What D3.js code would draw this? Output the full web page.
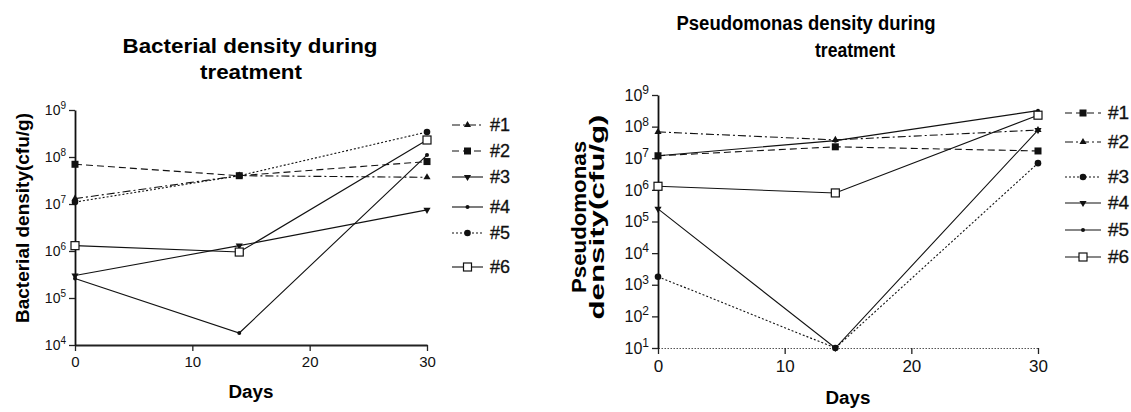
<!DOCTYPE html>
<html>
<head>
<meta charset="utf-8">
<script src="https://cdn.jsdelivr.net/npm/d3@7"></script>
<style>
  body { margin: 0; background: #fff; }
  svg { display: block; font-family: "Liberation Sans", Arial, sans-serif; }
</style>
</head>
<body>
<div id="chart"></div>
<script>
// ---- data ----
const days = [0, 14, 30];
const seriesNames = ['#1', '#2', '#3', '#4', '#5', '#6'];
const xTicks = [0, 10, 20, 30];

// bacterial density (cfu/g)
const bactYTicks = [1e4, 1e5, 1e6, 1e7, 1e8, 1e9];
const bact1 = [1.3e7, 4.0e7, 3.7e7];
const bact2 = [7.0e7, 4.0e7, 8.0e7];
const bact3 = [3.0e5, 1.3e6, 7.5e6];
const bact4 = [2.6e5, 1.8e4, 1.1e8];
const bact5 = [1.1e7, 4.0e7, 3.4e8];
const bact6 = [1.3e6, 9.5e5, 2.3e8];

// pseudomonas density (cfu/g)
const pseuYTicks = [1e1, 1e2, 1e3, 1e4, 1e5, 1e6, 1e7, 1e8, 1e9];
const pseu1 = [1.2e7, 2.3e7, 1.7e7];
const pseu2 = [6.8e7, 3.8e7, 7.8e7];
const pseu3 = [1.8e3, 1e1, 7.0e6];
const pseu4 = [2.5e5, 1e1, 7.8e7];
const pseu5 = [1.2e7, 3.6e7, 3.2e8];
const pseu6 = [1.3e6, 8.0e5, 2.3e8];

// ---- styles ----
const DASHED = '7,4', DASHDOT = '8,3,2,3', DOTTED = '2,2', SOLID = null;

const svg = d3.select('#chart')
  .append('svg')
  .attr('width', 1131)
  .attr('height', 412);

function drawMarker(g, kind, x, y) {
  if (kind === 'square') {
    g.append('rect').attr('x', x - 3.5).attr('y', y - 3.5).attr('width', 7).attr('height', 7).attr('fill', '#111');
  } else if (kind === 'open') {
    g.append('rect').attr('x', x - 4).attr('y', y - 4).attr('width', 8).attr('height', 8)
      .attr('fill', '#fff').attr('stroke', '#111').attr('stroke-width', 1.2);
  } else if (kind === 'circle') {
    g.append('circle').attr('cx', x).attr('cy', y).attr('r', 3.3).attr('fill', '#111');
  } else if (kind === 'dot') {
    g.append('circle').attr('cx', x).attr('cy', y).attr('r', 2).attr('fill', '#111');
  } else if (kind === 'tri') {
    g.append('path').attr('transform', `translate(${x},${y})`)
      .attr('d', d3.symbol(d3.symbolTriangle, 22)()).attr('fill', '#111');
  } else if (kind === 'itri') {
    g.append('path').attr('transform', `translate(${x},${y}) rotate(180)`)
      .attr('d', d3.symbol(d3.symbolTriangle, 22)()).attr('fill', '#111');
  }
}

// bold label, stretched to the length it has in the figure
function label(g, t, x, y, size, len, rotate) {
  return g.append('text')
    .attr('transform', `translate(${x},${y})` + (rotate ? ' rotate(-90)' : ''))
    .attr('text-anchor', 'middle').attr('font-size', size).attr('font-weight', 'bold')
    .attr('textLength', len).attr('lengthAdjust', 'spacingAndGlyphs')
    .text(t);
}

function drawPanel(cfg) {
  const x = d3.scaleLinear().domain([0, 30]).range([cfg.left, cfg.right]);
  const y = d3.scaleLog().domain(cfg.yDomain).range([cfg.bottom, cfg.top]);
  const g = svg.append('g');

  // title
  cfg.title.forEach(t => label(g, t.text, t.x, t.y, cfg.titleSize, t.len));

  // x axis
  const xAxis = g.append('g')
    .attr('transform', `translate(0,${cfg.bottom})`)
    .call(d3.axisBottom(x).tickValues(xTicks).tickSize(6).tickSizeOuter(0).tickPadding(cfg.xPad));
  xAxis.selectAll('text').attr('font-size', cfg.tickSize).attr('fill', '#111')
    .attr('font-family', 'Liberation Sans, Arial, sans-serif');
  xAxis.selectAll('.tick line').attr('stroke', '#222').attr('stroke-width', 1.3);
  xAxis.select('.domain').attr('stroke', cfg.xDomainColor).attr('stroke-width', cfg.xDomainWidth)
    .attr('stroke-dasharray', cfg.xDomainDash);

  // y axis
  const yAxis = g.append('g')
    .attr('transform', `translate(${cfg.left},0)`)
    .call(d3.axisLeft(y).tickValues(cfg.yTicks).tickSize(6).tickSizeOuter(0).tickPadding(3).tickFormat(() => ''));
  yAxis.select('.domain').attr('stroke', '#111').attr('stroke-width', 1.8);
  yAxis.selectAll('.tick line').attr('stroke', '#222').attr('stroke-width', 1.3);
  yAxis.selectAll('.tick text').each(function (d) {
    const t = d3.select(this)
      .attr('font-size', cfg.tickSize - 1).attr('fill', '#111')
      .attr('font-family', 'Liberation Sans, Arial, sans-serif');
    t.text('10');
    t.append('tspan').attr('dy', '-0.55em').attr('font-size', cfg.tickSize - 5).text(Math.round(Math.log10(d)));
  });

  // axis labels
  label(g, 'Days', (cfg.left + cfg.right) / 2, cfg.daysY, 18, 45);
  cfg.yLabel.forEach(t => label(g, t.text, t.x, t.y, cfg.yLabelSize, t.len, true));

  // series
  const line = d3.line().x((d, i) => x(days[i])).y(d => y(d));
  cfg.series.forEach(s => {
    g.append('path')
      .attr('d', line(s.values))
      .attr('fill', 'none').attr('stroke', '#111').attr('stroke-width', 1.1)
      .attr('stroke-dasharray', s.dash);
    s.values.forEach((v, i) => drawMarker(g, s.marker, x(days[i]), y(v)));
  });

  // legend
  cfg.series.forEach((s, i) => {
    const ly = cfg.legendY[i];
    g.append('line')
      .attr('x1', cfg.legendX).attr('x2', cfg.legendX + cfg.legendW)
      .attr('y1', ly).attr('y2', ly)
      .attr('stroke', '#111').attr('stroke-width', 1.1).attr('stroke-dasharray', s.dash);
    drawMarker(g, s.marker, cfg.legendX + cfg.legendW / 2, ly);
    g.append('text')
      .attr('x', cfg.legendX + cfg.legendW + 7).attr('y', ly + 6)
      .attr('font-size', cfg.legendSize).attr('fill', '#111')
      .attr('stroke', '#111').attr('stroke-width', 0.3)
      .text(seriesNames[i]);
  });
}

drawPanel({
  left: 75, right: 427, top: 110, bottom: 345,
  yDomain: [1e4, 1e9], yTicks: bactYTicks,
  titleSize: 20,
  title: [
    { text: 'Bacterial density during', x: 250, y: 53, len: 255 },
    { text: 'treatment', x: 251, y: 79, len: 102 }
  ],
  tickSize: 15, xPad: 5,
  daysY: 398,
  yLabelSize: 18,
  yLabel: [{ text: 'Bacterial density(cfu/g)', x: 29, y: 218, len: 210 }],
  xDomainColor: '#222', xDomainWidth: 1.8, xDomainDash: null,
  legendX: 452, legendW: 31, legendY: [125, 151, 177, 207, 233, 267], legendSize: 18,
  series: [
    { values: bact1, dash: DASHDOT, marker: 'tri' },
    { values: bact2, dash: DASHED, marker: 'square' },
    { values: bact3, dash: SOLID, marker: 'itri' },
    { values: bact4, dash: SOLID, marker: 'dot' },
    { values: bact5, dash: DOTTED, marker: 'circle' },
    { values: bact6, dash: SOLID, marker: 'open' }
  ]
});

drawPanel({
  left: 658, right: 1038, top: 95, bottom: 348,
  yDomain: [1e1, 1e9], yTicks: pseuYTicks,
  titleSize: 20,
  title: [
    { text: 'Pseudomonas density during', x: 806, y: 30, len: 259 },
    { text: 'treatment', x: 855, y: 57, len: 80 }
  ],
  tickSize: 17, xPad: 6,
  daysY: 404,
  yLabelSize: 20,
  yLabel: [
    { text: 'Pseudomonas', x: 586, y: 217, len: 152 },
    { text: 'density(cfu/g)', x: 604, y: 217, len: 205 }
  ],
  xDomainColor: '#555', xDomainWidth: 1, xDomainDash: '1.5,1.5',
  legendX: 1065, legendW: 36, legendY: [113, 142, 177, 203, 230, 257], legendSize: 19,
  series: [
    { values: pseu1, dash: DASHED, marker: 'square' },
    { values: pseu2, dash: DASHDOT, marker: 'tri' },
    { values: pseu3, dash: DOTTED, marker: 'circle' },
    { values: pseu4, dash: SOLID, marker: 'itri' },
    { values: pseu5, dash: SOLID, marker: 'dot' },
    { values: pseu6, dash: SOLID, marker: 'open' }
  ]
});
</script>
</body>
</html>
